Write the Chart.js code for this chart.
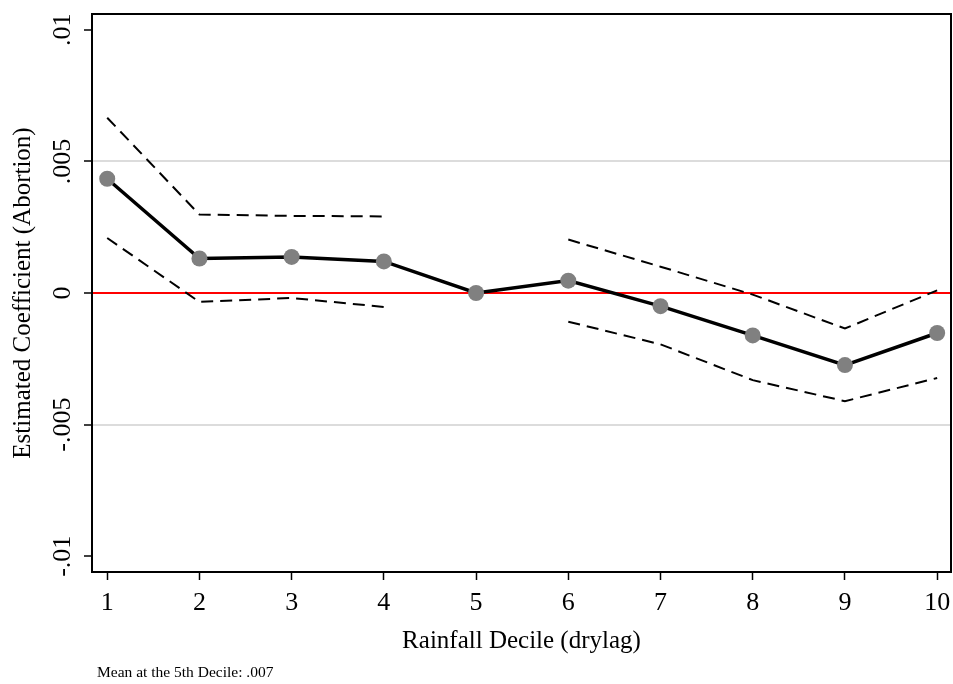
<!DOCTYPE html>
<html>
<head>
<meta charset="utf-8">
<script src="https://cdn.jsdelivr.net/npm/chart.js@4.4.0/dist/chart.umd.min.js"></script>
<style>
  html, body { margin: 0; padding: 0; background: #fff; }
  #wrap { width: 953px; height: 684px; }
</style>
</head>
<body>
<div id="wrap"><canvas id="rainChart" width="953" height="684"></canvas></div>
<script>
// rainfall deciles and estimated coefficients (abortion)
var deciles = [1, 2, 3, 4, 5, 6, 7, 8, 9, 10];
var coef    = [0.00434, 0.00131, 0.00137, 0.00120, 0, 0.00047, -0.00050, -0.00161, -0.00274, -0.00152];
var upperCI = [0.00666, 0.00298, 0.00293, 0.00291, null, 0.00203, 0.00100, -0.00006, -0.00135, 0.00010];
var lowerCI = [0.00209, -0.00034, -0.00019, -0.00053, null, -0.00109, -0.00195, -0.00331, -0.00411, -0.00323];
var yTicks  = [-0.01, -0.005, 0, 0.005, 0.01];
var yLabels = ['-.01', '-.005', '0', '.005', '.01'];
var noteText = 'Mean at the 5th Decile: .007';

function pts(vals){
  return deciles.map(function(d, i){ return {x: d, y: vals[i]}; });
}

var serif = "'Liberation Serif', 'Times New Roman', serif";

var framePlugin = {
  id: 'frame',
  afterDraw: function(chart){
    var a = chart.chartArea, ctx = chart.ctx;
    ctx.save();
    ctx.strokeStyle = '#000';
    ctx.lineWidth = 2;
    ctx.strokeRect(a.left, a.top, a.right - a.left, a.bottom - a.top);
    ctx.fillStyle = '#000';
    ctx.font = '15.5px ' + serif;
    ctx.textBaseline = 'middle';
    ctx.fillText(noteText, 97, 673);
    ctx.restore();
  }
};

var ctx = document.getElementById('rainChart');
var chart = new Chart(ctx, {
  type: 'line',
  data: {
    datasets: [
      {
        label: 'coef',
        data: pts(coef),
        borderColor: '#000',
        borderWidth: 3.5,
        pointRadius: 8,
        pointBackgroundColor: '#808080',
        pointBorderColor: '#808080',
        pointBorderWidth: 0,
        order: 1
      },
      {
        label: 'upper',
        data: pts(upperCI),
        borderColor: '#000',
        borderWidth: 2,
        borderDash: [12, 7],
        pointRadius: 0,
        spanGaps: false,
        order: 2
      },
      {
        label: 'lower',
        data: pts(lowerCI),
        borderColor: '#000',
        borderWidth: 2,
        borderDash: [12, 7],
        pointRadius: 0,
        spanGaps: false,
        order: 2
      }
    ]
  },
  plugins: [framePlugin],
  options: {
    responsive: false,
    animation: false,
    layout: { autoPadding: false, padding: { top: 14, right: 2, left: 0, bottom: 28 } },
    plugins: {
      legend: { display: false },
      tooltip: { enabled: false }
    },
    scales: {
      x: {
        type: 'linear',
        min: 0.835,
        max: 10.15,
        afterBuildTicks: function(s){ s.ticks = deciles.map(function(v){ return {value: v}; }); },
        afterFit: function(s){ s.height = 84; s.paddingLeft = 0; s.paddingRight = 0; },
        grid: { drawOnChartArea: false, drawTicks: true, tickLength: 8, tickColor: '#000', tickWidth: 1.5 },
        border: { display: false },
        ticks: { color: '#000', font: { family: serif, size: 26 }, padding: 8, maxRotation: 0 },
        title: { display: true, text: 'Rainfall Decile (drylag)', color: '#000', font: { family: serif, size: 25 }, padding: { top: 2, bottom: 0 } }
      },
      y: {
        min: -0.0106,
        max: 0.0106,
        afterBuildTicks: function(s){ s.ticks = yTicks.map(function(v){ return {value: v}; }); },
        afterFit: function(s){ s.width = 92; s.paddingTop = 0; s.paddingBottom = 0; },
        grid: {
          drawTicks: true,
          tickLength: 8,
          tickColor: '#000',
          tickWidth: 1.5,
          color: function(c){
            var v = c.tick ? c.tick.value : null;
            if (v === 0) return '#ff0000';
            if (v === 0.005 || v === -0.005) return '#dcdcdc';
            return 'rgba(0,0,0,0)';
          },
          lineWidth: 2
        },
        border: { display: false },
        ticks: {
          color: '#000',
          font: { family: serif, size: 26 },
          minRotation: 90,
          maxRotation: 90,
          crossAlign: 'center',
          padding: -6,
          callback: function(v){
            var i = yTicks.indexOf(v);
            return i >= 0 ? yLabels[i] : '';
          }
        },
        title: { display: true, text: 'Estimated Coefficient (Abortion)', color: '#000', font: { family: serif, size: 25 }, padding: { top: 8, bottom: 0 } }
      }
    }
  }
});
</script>
</body>
</html>
